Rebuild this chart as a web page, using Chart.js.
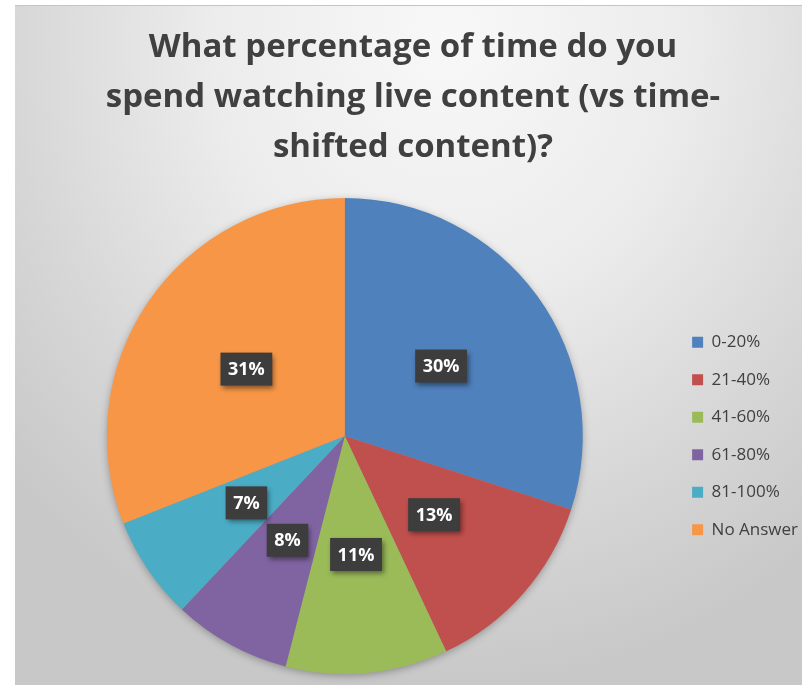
<!DOCTYPE html>
<html>
<head>
<meta charset="utf-8">
<title>Live vs time-shifted viewing</title>
<script src="https://cdn.jsdelivr.net/npm/chart.js@4.4.1/dist/chart.umd.min.js"></script>
<style>
  html, body { margin: 0; padding: 0; background: #ffffff; overflow: hidden; }
  #panel {
    position: absolute;
    left: 15px;
    top: 5px;
    width: 787px;
    height: 680px;
    overflow: hidden;
    border-top: 1px solid #c4c4c4;
    box-sizing: border-box;
    background: radial-gradient(ellipse 75% 95% at 55% 5%, #f8f8f8 0%, #ececec 40%, #d6d6d6 75%, #c8c8c8 100%);
  }
  #livePie { position: absolute; left: 0; top: 0; }
</style>
</head>
<body>
<div id="panel">
  <canvas id="livePie" width="793" height="680"></canvas>
</div>
<script>
var titleLines = ['What percentage of time do you', 'spend watching live content (vs time-', 'shifted content)?'];
var categories = ['0-20%', '21-40%', '41-60%', '61-80%', '81-100%', 'No Answer'];
var shares = [30, 13, 11, 8, 7, 31];
var sliceColors = ['#4f81bd', '#c0504d', '#9bbb59', '#8064a2', '#4bacc6', '#f79646'];

var fontFamily = "'Open Sans', Lato, sans-serif";

// soft shadow under the whole pie
var pieShadow = {
    id: 'pieShadow',
    beforeDatasetsDraw: function(chart) {
        var arc = chart.getDatasetMeta(0).data[0];
        if (!arc) return;
        var ctx = chart.ctx;
        ctx.save();
        ctx.shadowColor = 'rgba(0, 0, 0, 0.35)';
        ctx.shadowBlur = 9;
        ctx.shadowOffsetY = 2;
        ctx.fillStyle = '#999999';
        ctx.beginPath();
        ctx.arc(arc.x, arc.y, arc.outerRadius - 1, 0, Math.PI * 2);
        ctx.fill();
        ctx.restore();
    }
};

// dark percentage boxes in the middle of each slice
var sliceLabels = {
    id: 'sliceLabels',
    afterDatasetsDraw: function(chart) {
        var ctx = chart.ctx;
        var meta = chart.getDatasetMeta(0);
        ctx.save();
        ctx.font = 'bold 18px ' + fontFamily;
        ctx.textAlign = 'center';
        ctx.textBaseline = 'middle';
        meta.data.forEach(function(arc, i) {
            var pos = arc.tooltipPosition();
            var text = shares[i] + '%';
            var w = ctx.measureText(text).width + 15;
            var h = 33;
            ctx.shadowColor = 'rgba(0, 0, 0, 0.45)';
            ctx.shadowBlur = 5;
            ctx.shadowOffsetX = 2;
            ctx.shadowOffsetY = 3;
            ctx.fillStyle = '#3d3d3d';
            ctx.fillRect(pos.x - w / 2, pos.y - h / 2, w, h);
            ctx.shadowColor = 'transparent';
            ctx.fillStyle = '#ffffff';
            ctx.fillText(text, pos.x, pos.y + 1);
        });
        ctx.restore();
    }
};

var ctx = document.getElementById('livePie').getContext('2d');
var livePie = new Chart(ctx, {
    type: 'pie',
    data: {
        labels: categories,
        datasets: [{
            data: shares,
            backgroundColor: sliceColors,
            borderWidth: 0
        }]
    },
    options: {
        responsive: false,
        animation: false,
        layout: {
            padding: { left: 3, right: 0, top: 0, bottom: 12 }
        },
        plugins: {
            title: {
                display: true,
                text: titleLines,
                color: '#404040',
                font: { family: fontFamily, size: 33, weight: 'bold', lineHeight: '50px' },
                padding: { top: 17, bottom: 25 }
            },
            legend: {
                position: 'right',
                fullSize: false,
                labels: {
                    color: '#404040',
                    boxWidth: 11,
                    boxHeight: 11,
                    padding: 20.5,
                    font: { family: fontFamily, size: 17 }
                }
            },
            tooltip: { enabled: false }
        }
    },
    plugins: [pieShadow, sliceLabels]
});
</script>
</body>
</html>
